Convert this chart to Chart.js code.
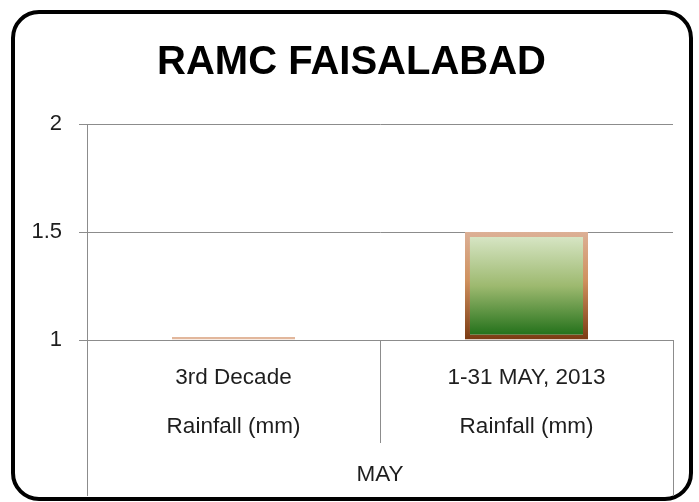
<!DOCTYPE html>
<html>
<head>
<meta charset="utf-8">
<script src="https://cdn.jsdelivr.net/npm/chart.js@4/dist/chart.umd.min.js"></script>
<style>
  html, body { margin: 0; padding: 0; background: #ffffff; }
  canvas { display: block; }
</style>
</head>
<body>
<canvas id="c" width="699" height="502"></canvas>
<script>
// ---- data ----
const chartTitle = 'RAMC FAISALABAD';
const categories = ['3rd Decade', '1-31 MAY, 2013'];
const measureLabel = 'Rainfall (mm)';
const groupLabels = ['MAY'];
const rainfall = [1, 1.5];
const yTicks = [1, 1.5, 2];
const yTickLabels = ['1', '1.5', '2'];
const axisBase = 1;

const FONT = "'Liberation Sans', Arial, sans-serif";
const GRID = '#8c8c8c';
const TEXT = '#1e1e1e';

const frame = {
  id: 'frame',
  beforeDraw(chart) {
    const ctx = chart.ctx;
    ctx.save();
    ctx.fillStyle = '#ffffff';
    ctx.fillRect(0, 0, chart.width, chart.height);
    ctx.strokeStyle = '#000000';
    ctx.lineWidth = 4;
    ctx.beginPath();
    ctx.roundRect(13, 12, 678, 487, 26);
    ctx.stroke();
    ctx.restore();
  }
};

function barFill(c) {
  const chart = c.chart;
  if (!chart.chartArea) return '#9fba72';
  const y = chart.scales.y;
  const top = y.getPixelForValue(rainfall[c.dataIndex]);
  const bot = y.getPixelForValue(axisBase);
  if (bot - top < 2) return '#e8efd9';
  const g = chart.ctx.createLinearGradient(0, top, 0, bot);
  g.addColorStop(0, '#dce9cc');
  g.addColorStop(0.5, '#9db96f');
  g.addColorStop(1, '#176a12');
  return g;
}
function barBorder(c) {
  const chart = c.chart;
  if (!chart.chartArea) return '#c8804a';
  const y = chart.scales.y;
  const top = y.getPixelForValue(rainfall[c.dataIndex]);
  const bot = y.getPixelForValue(axisBase);
  if (bot - top < 2) return '#e2b79c';
  const g = chart.ctx.createLinearGradient(0, top, 0, bot);
  g.addColorStop(0, '#dcb096');
  g.addColorStop(0.45, '#cf915e');
  g.addColorStop(1, '#7a3a12');
  return g;
}

new Chart(document.getElementById('c'), {
  type: 'bar',
  data: {
    labels: categories.map(c => [c, measureLabel]),
    datasets: [{
      data: rainfall,
      base: axisBase,
      backgroundColor: barFill,
      borderColor: barBorder,
      borderWidth: 5,
      borderSkipped: false,
      minBarLength: 3,
      clip: false,
      categoryPercentage: 1,
      barPercentage: 0.42
    }]
  },
  plugins: [frame],
  options: {
    responsive: false,
    animation: false,
    devicePixelRatio: 1,
    layout: { padding: { left: 30, right: 26, top: 0, bottom: 6 } },
    plugins: {
      legend: { display: false },
      tooltip: { enabled: false },
      title: {
        display: true,
        text: chartTitle,
        color: '#000000',
        font: { family: FONT, size: 40, weight: 'bold', lineHeight: 1.2 },
        padding: { top: 39, bottom: 37 }
      }
    },
    scales: {
      y: {
        min: yTicks[0],
        max: yTicks[yTicks.length - 1],
        afterBuildTicks: s => { s.ticks = yTicks.map(v => ({ value: v })); },
        afterFit: s => { s.width = 57; },
        grid: { color: GRID, lineWidth: 1, tickLength: 8 },
        border: { color: GRID, width: 1 },
        ticks: {
          color: TEXT,
          padding: 17,
          callback: (v, i) => yTickLabels[i],
          font: { family: FONT, size: 22 }
        }
      },
      x: {
        weight: 0,
        afterFit: s => { s.height = 103; },
        grid: { offset: true, drawOnChartArea: false, color: GRID, tickLength: 103 },
        border: { display: false },
        ticks: {
          color: TEXT,
          padding: -89.5,
          maxRotation: 0,
          autoSkip: false,
          font: { family: FONT, size: 22.5, lineHeight: 2.18 }
        }
      },
      x2: {
        type: 'category',
        position: 'bottom',
        labels: groupLabels,
        offset: true,
        weight: 1,
        afterFit: s => { s.height = 53; },
        grid: { offset: true, drawOnChartArea: false, color: GRID, tickLength: 53 },
        border: { display: false },
        ticks: {
          color: TEXT,
          padding: -34.5,
          maxRotation: 0,
          font: { family: FONT, size: 22.5, lineHeight: 1.2 }
        }
      }
    }
  }
});
</script>
</body>
</html>
